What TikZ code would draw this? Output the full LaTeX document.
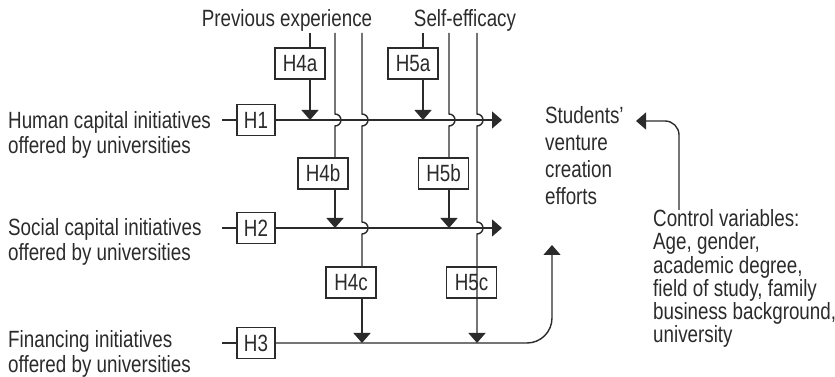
\documentclass[tikz,border=0pt]{standalone}
\usepackage{fontspec}
\setmainfont{Liberation Sans}[FakeStretch=0.8]
\usetikzlibrary{positioning, arrows.meta, calc}
\definecolor{ink}{HTML}{2B2B2B}
\tikzset{
  hbox/.style={draw=ink, fill=white, line width=1.2pt, minimum width=38pt, minimum height=31pt, inner sep=0pt},
  mbox/.style={hbox, minimum width=50pt},
  lbl/.style={anchor=base west, align=left, inner sep=0pt},
  conn/.style={draw=ink, line width=1.4pt},
  tip/.style={conn, -{Triangle[width=17pt,length=10pt]}},
}

\begin{document}
\begin{tikzpicture}[x=1pt, y=1pt, font=\fontsize{23.5}{25}\selectfont, text=ink]
  \useasboundingbox (0,0) rectangle (835,377);

  % Moderators on top
  \node[anchor=base, inner sep=0pt] (prev) at (287,350) {Previous experience};
  \node[anchor=base, inner sep=0pt] (self) at (465,350) {Self-efficacy};

  % Initiatives on the left (base = last line)
  \node[lbl] (hum) at (8,223) {Human capital initiatives\\offered by universities};
  \node[lbl] (soc) at (8,116) {Social capital initiatives\\offered by universities};
  \node[lbl] (fin) at (8,4) {Financing initiatives\\offered by universities};
  \node[hbox] (h1) at (256,257) {H1};
  \node[hbox] (h2) at (256,149) {H2};
  \node[hbox] (h3) at (256,34) {H3};

  % Outcome and controls
  \node[lbl, font=\fontsize{23.5}{27.3}\selectfont] (out) at (545,172) {Students'\\venture\\creation\\efforts};
  \node[lbl, font=\fontsize{23.5}{23.3}\selectfont] (ctrl) at (653,34) {Control variables:\\Age, gender,\\academic degree,\\field of study, family\\business background,\\university};

  % Moderation boxes
  \node[mbox] (h4a) at (300,313.5) {H4a};
  \node[mbox] (h5a) at (413,313.5) {H5a};
  \node[mbox] (h4b) at (323,203.5) {H4b};
  \node[mbox] (h5b) at (443.5,203.5) {H5b};
  \node[mbox] (h4c) at (351,94.5) {H4c};
  \node[mbox] (h5c) at (471.5,94.5) {H5c};

  % Tops of the moderator lines
  \coordinate (t4a) at (310,344);
  \coordinate (t4b) at (335,344);
  \coordinate (t4c) at (362,344);
  \coordinate (t5a) at (423,344);
  \coordinate (t5b) at (449,344);
  \coordinate (t5c) at (477,344);
  \coordinate (e1) at (502,257);
  \coordinate (e2) at (502,149);
  \coordinate (e3) at (552,132);
  \coordinate (c0) at (679,167);
  \coordinate (ec) at (636,256);

  % Main effects
  \draw[conn] (h1.west) -- ++(-14,0);
  \draw[conn] (h2.west) -- ++(-14,0);
  \draw[conn] (h3.west) -- ++(-14,0);
  \draw[tip] (h1.east) -- (e1);
  \draw[tip] (h2.east) -- (e2);
  \draw[tip, rounded corners=25pt] (h3.east) -- (e3 |- h3) -- (e3);
  \draw[tip, rounded corners=14pt] (c0) -- (c0 |- ec) -- (ec);

  % Previous experience
  \draw[conn] (t4a) -- (t4a |- h4a.north);
  \draw[tip] (t4a |- h4a.south) -- (t4a |- h1);
  \draw[conn] (t4b) -- ($(t4b |- h1)+(0,6)$) arc[start angle=90, end angle=-90, radius=6] -- (t4b |- h4b.north);
  \draw[tip] (t4b |- h4b.south) -- (t4b |- h2);
  \draw[conn] (t4c) -- ($(t4c |- h1)+(0,6)$) arc[start angle=90, end angle=-90, radius=6]
    -- ($(t4c |- h2)+(0,6)$) arc[start angle=90, end angle=-90, radius=6] -- (t4c |- h4c.north);
  \draw[tip] (t4c |- h4c.south) -- (t4c |- h3);

  % Self-efficacy
  \draw[conn] (t5a) -- (t5a |- h5a.north);
  \draw[tip] (t5a |- h5a.south) -- (t5a |- h1);
  \draw[conn] (t5b) -- ($(t5b |- h1)+(0,6)$) arc[start angle=90, end angle=-90, radius=6] -- (t5b |- h5b.north);
  \draw[tip] (t5b |- h5b.south) -- (t5b |- h2);
  \draw[tip] (t5c) -- ($(t5c |- h1)+(0,6)$) arc[start angle=90, end angle=-90, radius=6]
    -- ($(t5c |- h2)+(0,6)$) arc[start angle=90, end angle=-90, radius=6] -- (t5c |- h3);
\end{tikzpicture}
\end{document}
